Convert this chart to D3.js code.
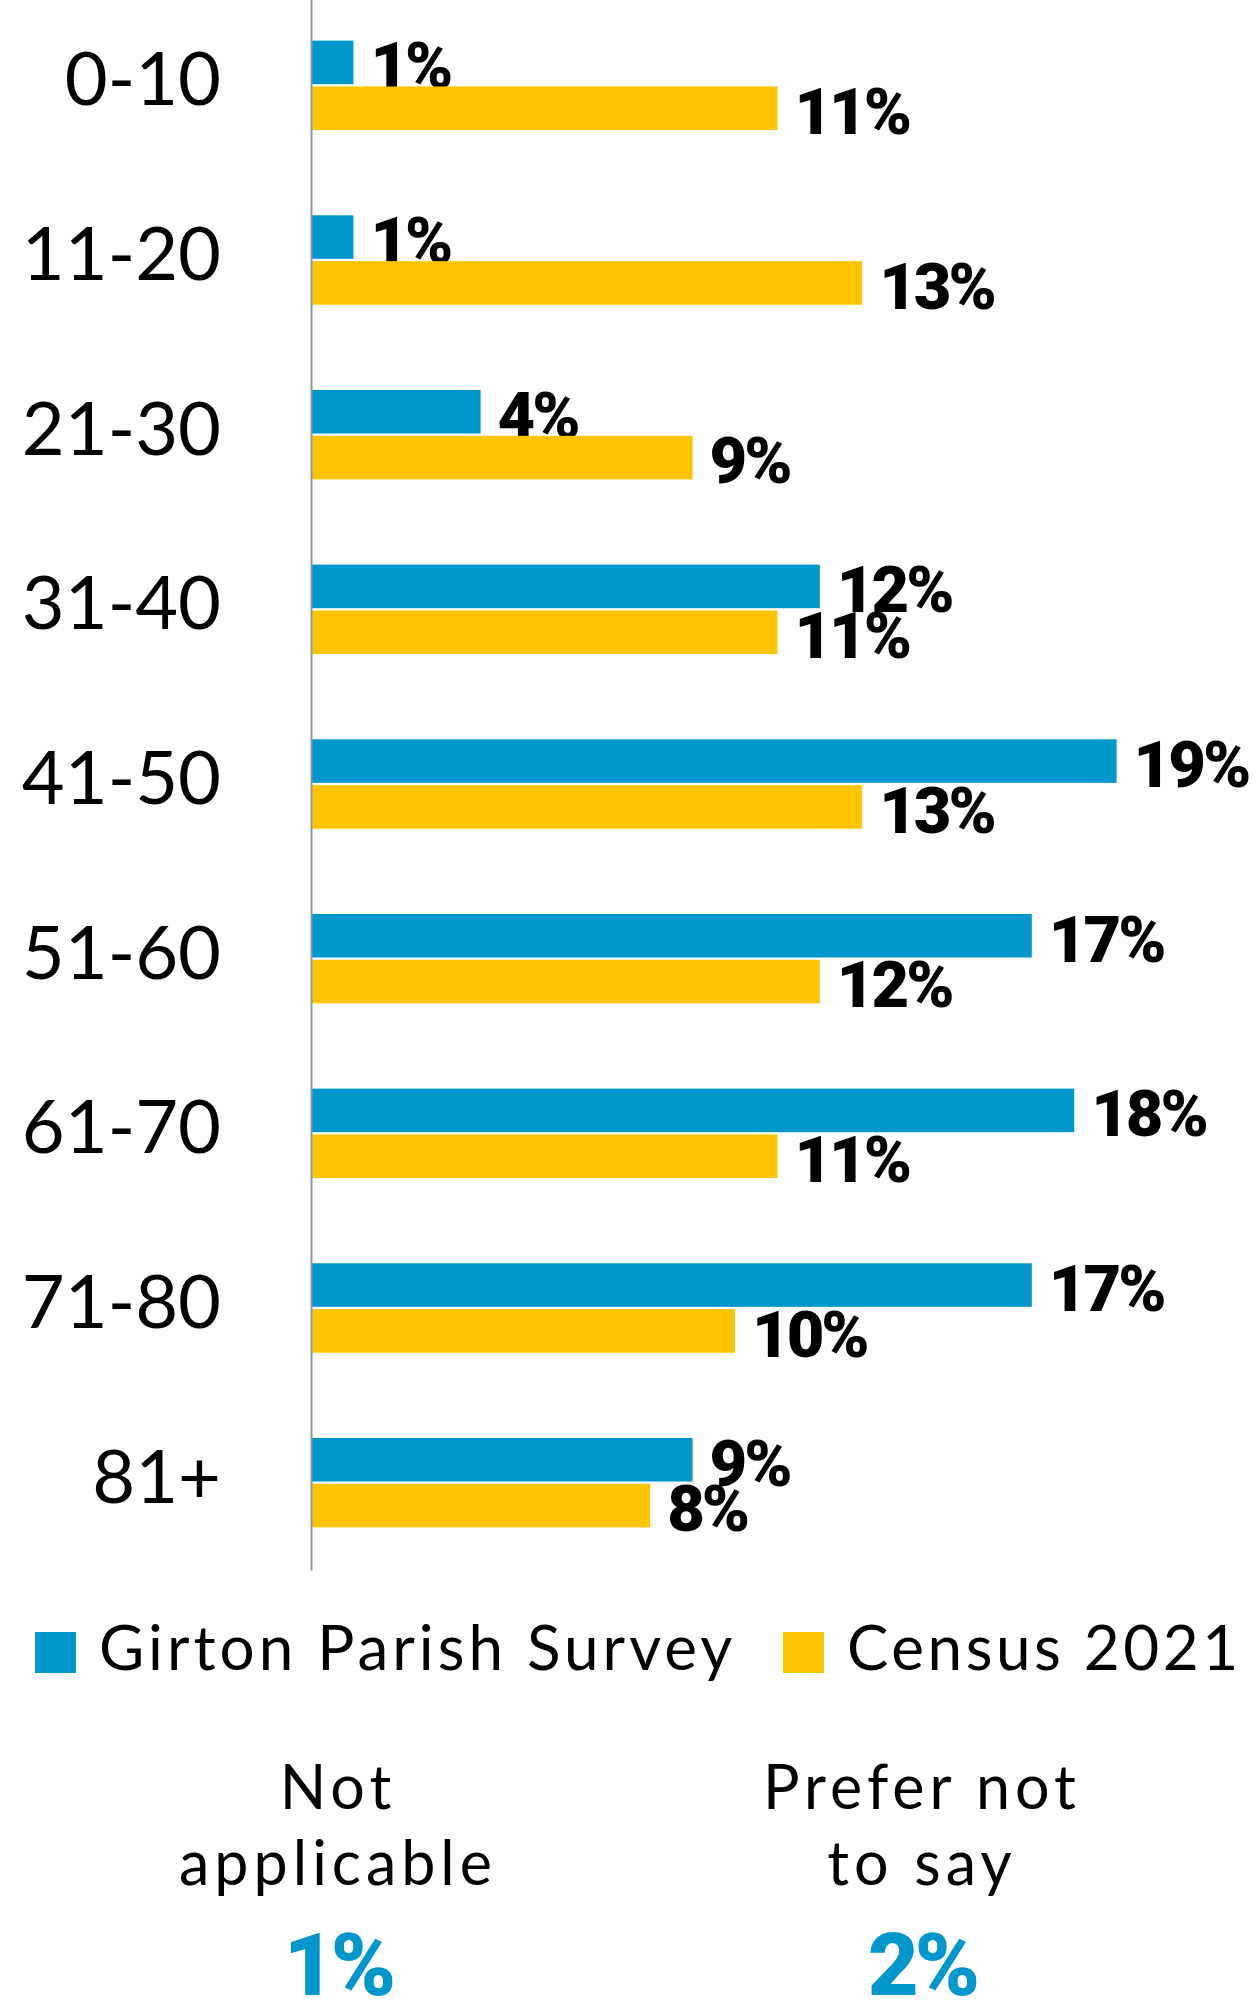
<!DOCTYPE html>
<html>
<head>
<meta charset="utf-8">
<script src="https://cdn.jsdelivr.net/npm/d3@7"></script>
<style>
  html, body { margin: 0; padding: 0; background: #fff; }
  svg { display: block; }
</style>
</head>
<body>
<svg id="chart" width="1257" height="2016"></svg>
<script>
// ---- data ----
const categories = ["0-10", "11-20", "21-30", "31-40", "41-50", "51-60", "61-70", "71-80", "81+"];
const seriesNames = ["Girton Parish Survey", "Census 2021"];
const surveyValues = [1, 1, 4, 12, 19, 17, 18, 17, 9];
const censusValues = [11, 13, 9, 11, 13, 12, 11, 10, 8];
const otherLabels = [["Not", "applicable"], ["Prefer not", "to say"]];
const otherValues = [1, 2];

// ---- styles ----
const colors = ["#0097CC", "#FDC500"];
const labelFont = "Lato, 'Open Sans', sans-serif";
const valueFont = "Roboto, 'Liberation Sans', sans-serif";

const svg = d3.select("#chart");

const x = d3.scaleLinear().domain([0, 20]).range([311, 311 + 848]);
const y = d3.scaleBand().domain(categories).range([-2, 1570])
  .paddingInner(0.488).paddingOuter(0.244);
const ySub = d3.scaleBand().domain(seriesNames).range([0, y.bandwidth()]).paddingInner(0.05);

const rows = categories.map((c, i) => ({ cat: c, vals: [surveyValues[i], censusValues[i]] }));

const groups = svg.append("g").selectAll("g").data(rows).join("g")
  .attr("transform", d => `translate(0,${y(d.cat)})`);

const bars = groups.selectAll("g.bar").data(d => d.vals.map((v, k) => ({ v, s: seriesNames[k], k })))
  .join("g").attr("class", "bar");

bars.append("rect")
  .attr("x", x(0))
  .attr("y", d => ySub(d.s))
  .attr("width", d => x(d.v) - x(0))
  .attr("height", ySub.bandwidth())
  .attr("fill", d => colors[d.k]);

bars.append("text")
  .attr("x", d => x(d.v) + 17)
  .attr("y", d => ySub(d.s) + ySub.bandwidth() + 4)
  .attr("font-family", valueFont)
  .attr("font-weight", 900)
  .attr("font-size", 65)
  .attr("letter-spacing", -3)
  .attr("fill", "#000")
  .text(d => d.v + "%");

// axis
const axis = svg.append("g")
  .attr("transform", `translate(${x(0)},0)`)
  .call(d3.axisLeft(y).tickSize(0).tickSizeOuter(0).tickPadding(90));
axis.select(".domain").attr("stroke", "#8a9aaa").attr("stroke-width", 2);
axis.selectAll(".tick text")
  .attr("font-family", labelFont)
  .attr("font-size", 74)
  .attr("fill", "#000")
  .attr("dy", "0.27em");

// legend
const legend = svg.append("g").selectAll("g").data(seriesNames).join("g")
  .attr("transform", (d, i) => `translate(${[35, 783][i]},1632)`);
legend.append("rect").attr("width", 41).attr("height", 41).attr("fill", (d, i) => colors[i]);
legend.append("text")
  .attr("x", 64).attr("y", 38)
  .attr("font-family", labelFont)
  .attr("font-size", 62)
  .attr("letter-spacing", (d, i) => [4, 3.5][i])
  .attr("fill", "#000")
  .text(d => d);

// other responses
const others = svg.append("g").selectAll("g").data(otherLabels).join("g")
  .attr("transform", (d, i) => `translate(${[338, 922][i]},0)`);
others.each(function(d, i) {
  const g = d3.select(this);
  g.selectAll("text.l").data(d).join("text").attr("class", "l")
    .attr("text-anchor", "middle")
    .attr("y", (t, j) => 1809 + j * 76)
    .attr("font-family", labelFont)
    .attr("font-size", 61)
    .attr("letter-spacing", 5)
    .attr("fill", "#000")
    .text(t => t);
  g.append("text")
    .attr("text-anchor", "middle")
    .attr("y", 1995)
    .attr("font-family", valueFont)
    .attr("font-weight", 900)
    .attr("font-size", 88)
    .attr("letter-spacing", -4)
    .attr("fill", colors[0])
    .text(otherValues[i] + "%");
});
</script>
</body>
</html>
